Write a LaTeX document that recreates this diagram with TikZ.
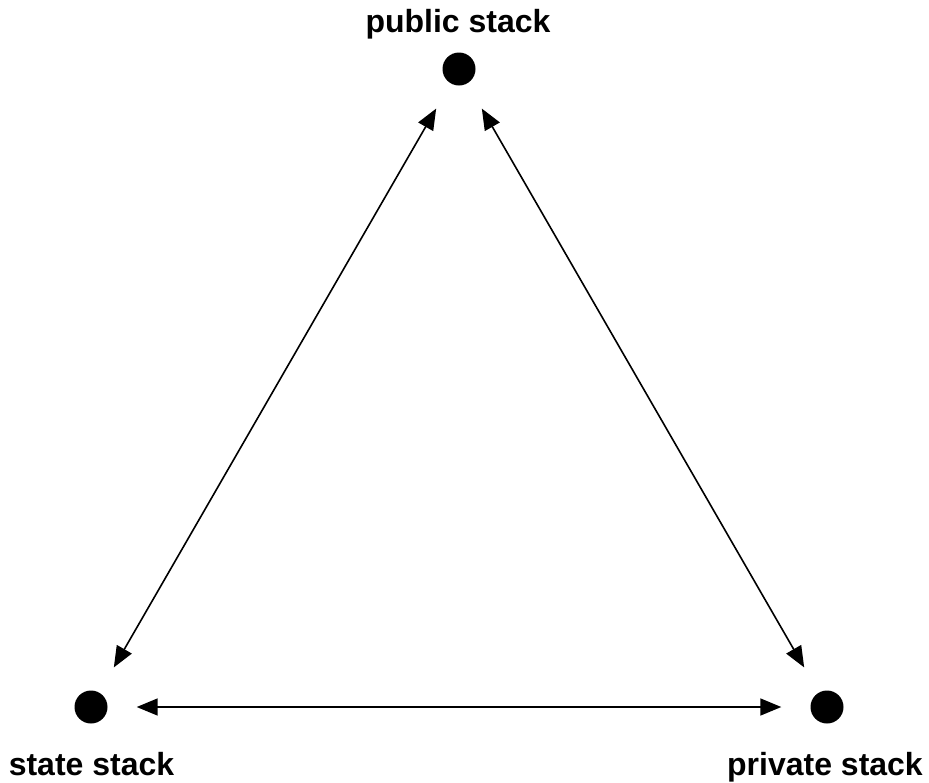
\documentclass[tikz,border=0pt]{standalone}
\usepackage{fontspec}
\setmainfont{Liberation Sans}
\usetikzlibrary{arrows.meta}
\tikzset{
  dot/.style={circle, fill=black, inner sep=0pt, minimum size=33pt},
  lbl/.style={anchor=base, inner sep=0pt, font=\fontsize{32pt}{38pt}\selectfont\bfseries},
  link/.style={line width=1.6pt, {Triangle[length=21pt,width=17pt]}-{Triangle[length=21pt,width=17pt]}, shorten <=29pt, shorten >=29pt}
}
\begin{document}
\begin{tikzpicture}[x=1pt, y=-1pt]
\useasboundingbox (0,0) rectangle (929,782);
\node[dot] (P) at (459,69) {};
\node[dot] (S) at (91,707) {};
\node[dot] (R) at (827,707) {};
\node[lbl] (lP) at (458,32) {public stack};
\node[lbl] (lS) at (91.5,775) {state stack};
\node[lbl] (lR) at (825,775) {private stack};
\draw[link] (P) -- (S);
\draw[link] (P) -- (R);
\draw[link] (S) -- (R);
\end{tikzpicture}
\end{document}
